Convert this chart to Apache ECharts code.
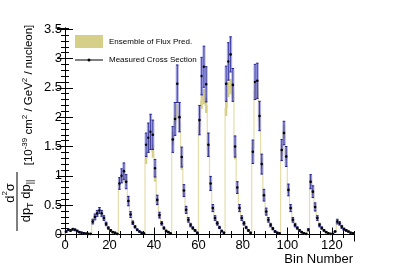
<!DOCTYPE html>
<html><head><meta charset="utf-8">
<script src="https://cdn.jsdelivr.net/npm/echarts@6/dist/echarts.min.js"></script>
<style>html,body{margin:0;padding:0;background:#fff}#c{width:407px;height:278px}</style>
</head><body><div id="c"></div>
<script>
// bin index 0..129 (each bin spans [i, i+1])
const measured = [
 0.05,0.08,0.07,0.09,0.08,0.06,0.04,0.03,0.02,0.015,0.01,0.01,
 0.22,0.30,0.36,0.41,0.36,0.28,0.18,0.11,0.07,0.04,0.03,0.01,
 0.87,1.00,1.08,0.90,0.57,0.34,0.20,0.13,0.08,0.05,0.03,0.02,
 1.53,1.65,1.75,1.70,1.13,0.59,0.33,0.19,0.11,0.06,0.04,0.02,
 1.62,1.97,2.57,2.00,1.32,0.75,0.42,0.25,0.16,0.11,0.07,0.03,
 1.95,2.70,2.86,2.56,1.53,0.87,0.45,0.28,0.19,0.12,0.06,0.03,
 2.57,2.95,3.07,2.55,1.50,0.80,0.45,0.28,0.19,0.12,0.07,0.03,
 1.41,2.60,2.62,2.02,1.20,0.67,0.39,0.25,0.16,0.10,0.05,0.03,0.02,
 1.44,1.73,1.33,0.76,0.45,0.25,0.16,0.11,0.07,0.04,0.02,0.01,0.08,
 0.90,0.73,0.47,0.28,0.16,0.11,0.07,0.04,0.02,0.01,0.01,0.05,
 0.22,0.19,0.13,0.09,0.07,0.05,0.03,0.02
];
const measuredErr = [
 0.015,0.015,0.015,0.015,0.015,0.015,0.01,0.01,0.01,0.005,0.005,0.005,
 0.04,0.05,0.05,0.05,0.05,0.04,0.03,0.02,0.015,0.01,0.01,0.005,
 0.10,0.12,0.14,0.12,0.08,0.05,0.03,0.02,0.015,0.01,0.01,0.005,
 0.20,0.25,0.30,0.25,0.15,0.08,0.05,0.03,0.02,0.015,0.01,0.005,
 0.22,0.28,0.32,0.25,0.17,0.10,0.06,0.04,0.03,0.02,0.015,0.01,
 0.25,0.32,0.35,0.30,0.20,0.12,0.06,0.04,0.03,0.02,0.015,0.01,
 0.30,0.32,0.30,0.28,0.18,0.10,0.06,0.04,0.03,0.02,0.015,0.01,
 0.20,0.30,0.30,0.25,0.17,0.10,0.06,0.04,0.03,0.02,0.015,0.01,0.005,
 0.18,0.20,0.17,0.10,0.06,0.04,0.03,0.02,0.015,0.01,0.005,0.005,0.02,
 0.12,0.10,0.07,0.04,0.03,0.02,0.015,0.01,0.005,0.005,0.005,0.01,
 0.04,0.03,0.025,0.02,0.015,0.01,0.01,0.005
];
const prediction = [
 0.05,0.07,0.07,0.08,0.07,0.06,0.04,0.03,0.02,0.015,0.01,0.01,
 0.24,0.32,0.37,0.40,0.36,0.28,0.19,0.12,0.07,0.04,0.03,0.01,
 0.88,0.97,0.98,0.92,0.60,0.36,0.21,0.13,0.08,0.05,0.03,0.02,
 1.30,1.50,1.61,1.42,0.99,0.56,0.32,0.19,0.11,0.06,0.04,0.02,
 1.64,1.92,2.10,1.90,1.20,0.70,0.40,0.24,0.15,0.10,0.06,0.03,
 1.84,2.27,2.35,2.20,1.44,0.82,0.44,0.27,0.18,0.11,0.06,0.03,
 2.15,2.47,2.52,2.44,1.39,0.76,0.43,0.27,0.18,0.11,0.06,0.03,
 1.47,2.44,2.46,1.95,1.21,0.65,0.38,0.24,0.15,0.09,0.05,0.03,0.02,
 1.44,1.76,1.37,0.78,0.46,0.26,0.16,0.11,0.07,0.04,0.02,0.01,0.07,
 0.93,0.73,0.48,0.29,0.17,0.11,0.07,0.04,0.02,0.01,0.01,0.05,
 0.23,0.20,0.14,0.10,0.07,0.05,0.03,0.02
];
const predictionErr = [
 0.012,0.012,0.012,0.012,0.012,0.012,0.01,0.01,0.01,0.01,0.01,0.01,
 0.03,0.035,0.04,0.04,0.035,0.03,0.025,0.02,0.015,0.01,0.01,0.01,
 0.07,0.08,0.08,0.08,0.06,0.04,0.03,0.02,0.015,0.01,0.01,0.01,
 0.10,0.11,0.12,0.11,0.09,0.06,0.04,0.03,0.02,0.015,0.01,0.01,
 0.11,0.12,0.13,0.12,0.10,0.07,0.045,0.03,0.02,0.015,0.01,0.01,
 0.12,0.13,0.13,0.13,0.11,0.07,0.045,0.03,0.02,0.015,0.01,0.01,
 0.13,0.13,0.13,0.13,0.11,0.07,0.045,0.03,0.02,0.015,0.01,0.01,
 0.11,0.13,0.13,0.12,0.10,0.07,0.045,0.03,0.02,0.015,0.01,0.01,0.01,
 0.10,0.11,0.10,0.07,0.045,0.03,0.02,0.015,0.01,0.01,0.01,0.01,0.01,
 0.07,0.06,0.045,0.03,0.02,0.015,0.01,0.01,0.01,0.01,0.01,0.01,
 0.025,0.02,0.015,0.012,0.01,0.01,0.01,0.01
];
const legendLabels = ['Ensemble of Flux Pred.', 'Measured Cross Section'];
const xTitle = 'Bin Number';

const FONT = '"Liberation Sans", Arial, Helvetica, sans-serif';
const BAND = '#d6cf88';
const HIST = '#e6dea8';
const chart = echarts.init(document.getElementById('c'), null, {renderer: 'canvas'});

const predData = prediction.map((v, i) => [i, v, predictionErr[i], i > 0 ? prediction[i - 1] : 0]);
const measData = measured.map((v, i) => [i + 0.5, v, measuredErr[i]]);

function mkX(pos, interval, len, labels, line) {
  return {type: 'value', min: 0, max: 130, interval: interval, position: pos,
    axisLine: {show: line, lineStyle: {color: '#000', width: 1}},
    axisTick: {show: true, inside: true, length: len, lineStyle: {color: '#000', width: 1}},
    axisLabel: {show: labels, color: '#000', fontSize: 13, fontFamily: FONT, margin: 4, showMaxLabel: false},
    splitLine: {show: false}};
}
function mkY(pos, interval, len, labels, line) {
  return {type: 'value', min: 0, max: 3.52, interval: interval, position: pos,
    axisLine: {show: line, lineStyle: {color: '#000', width: 1}},
    axisTick: {show: true, inside: true, length: len, lineStyle: {color: '#000', width: 1}},
    axisLabel: {show: labels, color: '#000', fontSize: 13, fontFamily: FONT, margin: 3, showMaxLabel: false},
    splitLine: {show: false}};
}

const option = {
  animation: false,
  backgroundColor: '#fff',
  grid: {left: 65, right: 53, top: 28, bottom: 43.5, containLabel: false},
  xAxis: [mkX('bottom', 20, 7, true, true), mkX('bottom', 5, 3.5, false, false),
          mkX('top', 20, 7, false, true), mkX('top', 5, 3.5, false, false)],
  yAxis: [mkY('left', 0.5, 8, true, true), mkY('left', 0.1, 4, false, false),
          mkY('right', 0.5, 8, false, true), mkY('right', 0.1, 4, false, false)],
  series: [
    {type: 'custom', name: 'hist', xAxisIndex: 0, yAxisIndex: 0, data: predData, encode: {x: 0, y: 1},
      renderItem: function (params, api) {
        const i = api.value(0), v = api.value(1), prev = api.value(3);
        const a = api.coord([i, prev]), b = api.coord([i, v]), c = api.coord([i + 1, v]);
        return {type: 'polyline', shape: {points: [a, b, c]}, style: {stroke: HIST, lineWidth: 1.2, fill: null}};
      }},
    {type: 'custom', name: legendLabels[0], xAxisIndex: 0, yAxisIndex: 0, data: predData, encode: {x: 0, y: 1},
      renderItem: function (params, api) {
        const i = api.value(0), v = api.value(1), e = api.value(2);
        const p1 = api.coord([i, v + e]), p2 = api.coord([i + 1, v - e]);
        const h = Math.max(p2[1] - p1[1], 1.5);
        return {type: 'rect', shape: {x: p1[0], y: (p1[1] + p2[1]) / 2 - h / 2, width: p2[0] - p1[0], height: h},
          style: {fill: BAND}};
      }},
    {type: 'custom', name: legendLabels[1], xAxisIndex: 0, yAxisIndex: 0, data: measData, encode: {x: 0, y: 1},
      renderItem: function (params, api) {
        const x = api.value(0), v = api.value(1), e = api.value(2);
        const t = api.coord([x, v + e]), b = api.coord([x, v - e]), c = api.coord([x, v]);
        return {type: 'group', children: [
          {type: 'rect', shape: {x: c[0] - 1.6, y: t[1], width: 3.2, height: b[1] - t[1]}, style: {fill: 'rgba(130,130,225,0.6)'}},
          {type: 'line', shape: {x1: c[0], y1: t[1], x2: c[0], y2: b[1]}, style: {stroke: '#20208a', lineWidth: 0.8}},
          {type: 'line', shape: {x1: c[0] - 1.2, y1: t[1], x2: c[0] + 1.2, y2: t[1]}, style: {stroke: '#20208a', lineWidth: 1}},
          {type: 'line', shape: {x1: c[0] - 1.2, y1: b[1], x2: c[0] + 1.2, y2: b[1]}, style: {stroke: '#20208a', lineWidth: 1}},
          {type: 'circle', shape: {cx: c[0], cy: c[1], r: 1.3}, style: {fill: '#000'}}
        ]};
      }}
  ],
  graphic: [
    {type: 'rect', shape: {x: 75, y: 35, width: 28, height: 13}, style: {fill: BAND}},
    {type: 'text', x: 109, y: 42, style: {text: legendLabels[0], font: '8px ' + FONT, fill: '#000', align: 'left', verticalAlign: 'middle'}},
    {type: 'line', shape: {x1: 75, y1: 60, x2: 103, y2: 60}, style: {stroke: '#000', lineWidth: 1}},
    {type: 'circle', shape: {cx: 89, cy: 60, r: 1.5}, style: {fill: '#000'}},
    {type: 'text', x: 109, y: 60, style: {text: legendLabels[1], font: '8px ' + FONT, fill: '#000', align: 'left', verticalAlign: 'middle'}},
    {type: 'text', x: 353, y: 259, style: {text: xTitle, font: '13px ' + FONT, fill: '#000', align: 'right', verticalAlign: 'middle'}},
    // y-axis title
    {type: 'text', x: 29, y: 95, rotation: Math.PI / 2,
      style: {text: '[10{sup|-39} cm{sup|2} / GeV{sup|2} / nucleon]', font: '11.5px ' + FONT, fill: '#000',
        align: 'center', verticalAlign: 'middle', lineHeight: 17,
        rich: {sup: {fontSize: 8, fontFamily: FONT, verticalAlign: 'top', lineHeight: 17}}}},
    {type: 'text', x: 10, y: 193, rotation: Math.PI / 2,
      style: {text: 'd{sup|2}σ', font: '13px ' + FONT, fill: '#000', align: 'center', verticalAlign: 'middle', lineHeight: 18,
        rich: {sup: {fontSize: 8, fontFamily: FONT, verticalAlign: 'top', lineHeight: 18}}}},
    {type: 'line', shape: {x1: 17, y1: 172, x2: 17, y2: 231}, style: {stroke: '#000', lineWidth: 1}},
    {type: 'text', x: 26, y: 201, rotation: Math.PI / 2,
      style: {text: 'dp{sub|T} dp{sub|||}', font: '13px ' + FONT, fill: '#000', align: 'center', verticalAlign: 'middle', lineHeight: 18,
        rich: {sub: {fontSize: 9, fontFamily: FONT, verticalAlign: 'bottom', lineHeight: 18}}}}
  ]
};
chart.setOption(option);
</script>
</body></html>
